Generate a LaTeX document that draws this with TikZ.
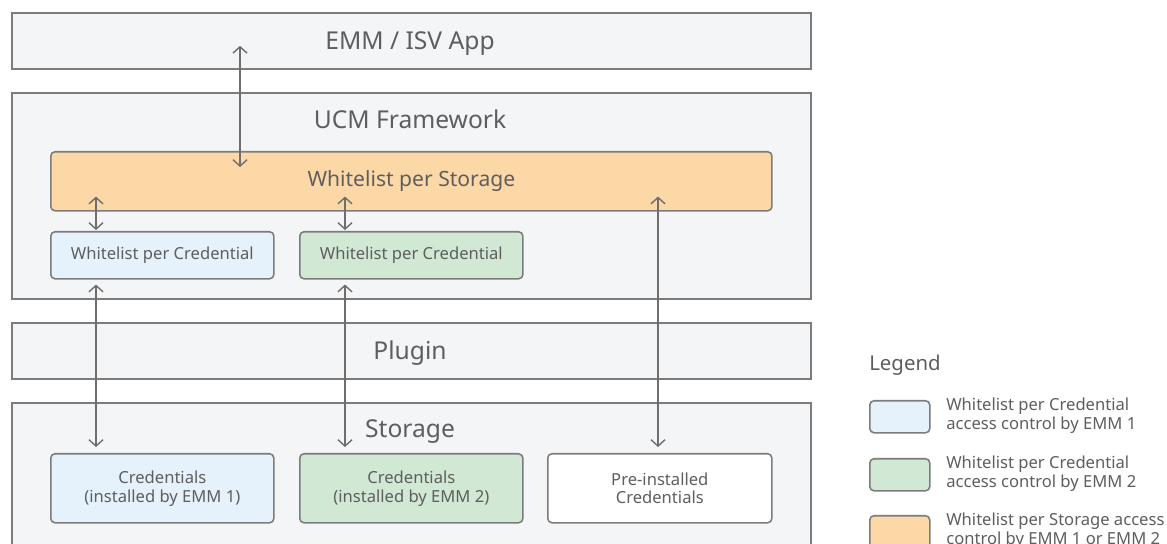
\documentclass[tikz,border=0pt]{standalone}
\usepackage{fontspec}
\setmainfont{Noto Sans}
\usetikzlibrary{arrows.meta,calc}
\definecolor{edge}{HTML}{7C7C7C}
\definecolor{wire}{HTML}{6E6E6E}
\definecolor{ink}{HTML}{5E5E5E}
\definecolor{panel}{HTML}{F4F5F7}
\definecolor{emmone}{HTML}{E5F1FB}
\definecolor{emmtwo}{HTML}{D1E8D4}
\definecolor{storefill}{HTML}{FDD8A7}

\begin{document}
\begin{tikzpicture}[x=0.025cm,y=-0.025cm]
            \tikzstyle{every node}+=[inner sep=0pt, text=ink]
            \tikzstyle{layer}=[draw=edge, fill=panel, line width=1.3pt, anchor=north west, minimum width=19.975cm]
            \tikzstyle{title}=[anchor=base, font=\fontsize{17.5}{21}\selectfont]
            \tikzstyle{inbox}=[draw=edge, line width=1.1pt, rounded corners=3pt, anchor=north west, align=center]
            \tikzstyle{small}=[font=\fontsize{11.8}{13.5}\selectfont]
            \tikzstyle{keybox}=[draw=edge, line width=1.1pt, rounded corners=3pt, anchor=north west, minimum width=1.5cm, minimum height=0.8cm]
            \tikzstyle{keytext}=[anchor=west, align=left, font=\fontsize{11.8}{13.5}\selectfont]
            \tikzstyle{link}=[draw=wire, line width=1pt, {Straight Barb[length=4.5pt,width=10pt]}-{Straight Barb[length=4.5pt,width=10pt]}]
            \clip (0,0) rectangle (1167,544);
            \fill [white] (0,0) rectangle (1167,544);
            \node [layer, minimum height=1.4cm] (app) at (11,12) {};
            \node [layer, minimum height=5.15cm] (ucm) at (11,92) {};
            \node [layer, minimum height=1.4cm] (plugin) at (11,322) {};
            \node [layer, minimum height=5cm] (storage) at (11,402) {};
            \node [title] (apptitle) at (410,50) {EMM / ISV App};
            \node [title] (ucmtitle) at (410,129) {UCM Framework};
            \node [title] (plugintitle) at (410,360) {Plugin};
            \node [title] (storagetitle) at (410,438) {Storage};
            \node [inbox, fill=storefill, minimum width=18.025cm, minimum height=1.475cm, font=\fontsize{15}{18}\selectfont] (store) at (50,151) {Whitelist per Storage};
            \node [inbox, small, fill=emmone, minimum width=5.575cm, minimum height=1.175cm] (wlone) at (50,231) {Whitelist per Credential};
            \node [inbox, small, fill=emmtwo, minimum width=5.575cm, minimum height=1.175cm] (wltwo) at (299,231) {Whitelist per Credential};
            \node [inbox, small, fill=emmone, minimum width=5.575cm, minimum height=1.725cm] (credone) at (50,453) {Credentials\\(installed by EMM 1)};
            \node [inbox, small, fill=emmtwo, minimum width=5.575cm, minimum height=1.725cm] (credtwo) at (299,453) {Credentials\\(installed by EMM 2)};
            \node [inbox, small, fill=white, minimum width=5.6cm, minimum height=1.725cm] (pre) at (547,453) {Pre-installed\\Credentials};
            \coordinate (c0) at (240,0);
            \coordinate (c1) at (96,0);
            \coordinate (c2) at (345,0);
            \coordinate (c3) at (658,0);
            \draw [link] ($(app.south -| c0)+(0,-24)$) -- ($(store.north -| c0)+(0,16)$);
            \draw [link] ($(store.south -| c1)+(0,-15)$) -- ($(wlone.north -| c1)+(0,-1)$);
            \draw [link] ($(store.south -| c2)+(0,-15)$) -- ($(wltwo.north -| c2)+(0,-1)$);
            \draw [link] ($(wlone.south -| c1)+(0,5)$) -- ($(credone.north -| c1)+(0,-6)$);
            \draw [link] ($(wltwo.south -| c2)+(0,5)$) -- ($(credtwo.north -| c2)+(0,-6)$);
            \draw [link] ($(store.south -| c3)+(0,-15)$) -- ($(pre.north -| c3)+(0,-6)$);
            \node [anchor=base west, font=\fontsize{14.5}{17}\selectfont] (legend) at (869,371) {Legend};
            \node [keybox, fill=emmone] (keyone) at (869,400) {};
            \node [keybox, fill=emmtwo] (keytwo) at (869,458) {};
            \node [keybox, fill=storefill] (keystore) at (869,515) {};
            \node [keytext] (textone) at (946,416) {Whitelist per Credential\\access control by EMM 1};
            \node [keytext] (texttwo) at (946,474) {Whitelist per Credential\\access control by EMM 2};
            \node [keytext] (textstore) at (946,531) {Whitelist per Storage access\\control by EMM 1 or EMM 2};
\end{tikzpicture}
\end{document}
